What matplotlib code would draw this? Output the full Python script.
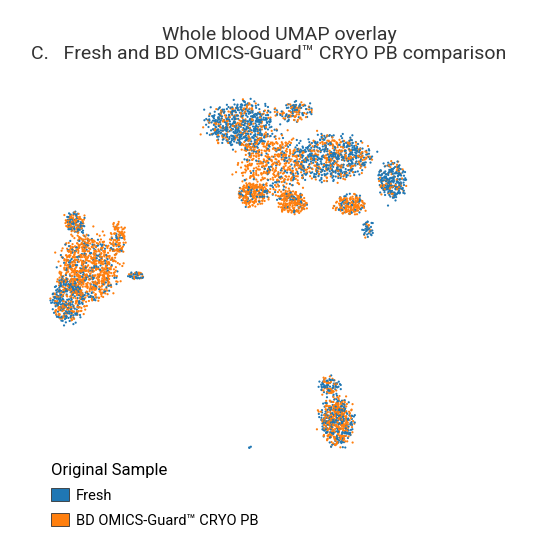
import numpy as np
import matplotlib
matplotlib.use("Agg")
import matplotlib.pyplot as plt
from matplotlib.patches import Patch

# Cluster layout estimated from the reference UMAP (pixel-like embedding coords)
# columns: center_x, center_y, radius_x, radius_y, n_fresh, n_cryo
clusters = [
    (240, 125, 32, 22, 480, 200),
    (270, 165, 32, 30, 120, 420),
    (330, 158, 38, 22, 460, 280),
    (392, 180, 13, 18, 220, 60),
    (252, 195, 13, 12, 40, 170),
    (292, 202, 15, 11, 40, 190),
    (350, 205, 14, 10, 50, 150),
    (295, 112, 18, 10, 70, 60),
    (368, 228, 6, 10, 30, 10),
    (88, 268, 28, 32, 200, 700),
    (68, 300, 16, 22, 230, 160),
    (75, 222, 10, 10, 70, 70),
    (118, 240, 8, 16, 20, 90),
    (136, 276, 8, 4, 30, 20),
    (337, 422, 16, 24, 260, 320),
    (330, 386, 10, 10, 60, 40),
    (250, 447, 2, 1, 3, 0),
]
legend_title = "Original Sample"
series_labels = ["Fresh", "BD OMICS-Guard™ CRYO PB"]
colors = ["#1f77b4", "#ff7f0e"]

rng = np.random.default_rng(3)
rows = []
for cx, cy, rx, ry, nf, nc in clusters:
    for k, n in ((0, nf), (1, nc)):
        if n:
            r = np.sqrt(rng.uniform(0, 1, n)) * (1 + 0.15 * rng.normal(size=n))
            t = rng.uniform(0, 2 * np.pi, n)
            rows.append(np.column_stack([cx + rx * r * np.cos(t), cy + ry * r * np.sin(t), np.full(n, k)]))
allp = np.vstack(rows)
allp = allp[rng.permutation(len(allp))]

fig = plt.figure(figsize=(5.58, 5.58), dpi=100)
ax = fig.add_axes([0, 0, 1, 1])
ax.set_xlim(0, 558); ax.set_ylim(558, 0); ax.axis("off")
ax.scatter(allp[:, 0], allp[:, 1], s=2.5, c=[colors[int(k)] for k in allp[:, 2]], linewidths=0)

fig.text(0.5, 1 - 35 / 558, "Whole blood UMAP overlay", ha="center", va="center",
         fontsize=14, family="Roboto", color="#333333")
fig.text(269 / 558, 1 - 54 / 558, "C.   Fresh and BD OMICS-Guard™ CRYO PB comparison", ha="center",
         va="center", fontsize=14, family="Roboto", color="#333333")

handles = [Patch(facecolor=c, edgecolor="#333333", linewidth=0.6) for c in colors]
leg = fig.legend(handles, series_labels, title=legend_title, loc="upper left",
                 bbox_to_anchor=(38 / 558, 1 - 450 / 558), frameon=False,
                 prop={"family": "Roboto", "size": 10.5}, title_fontproperties={"family": "Roboto", "size": 12},
                 handlelength=1.2, handleheight=1.0, handletextpad=0.5, labelspacing=0.7)
leg._legend_box.align = "left"
fig.savefig("out.png", dpi=100)
